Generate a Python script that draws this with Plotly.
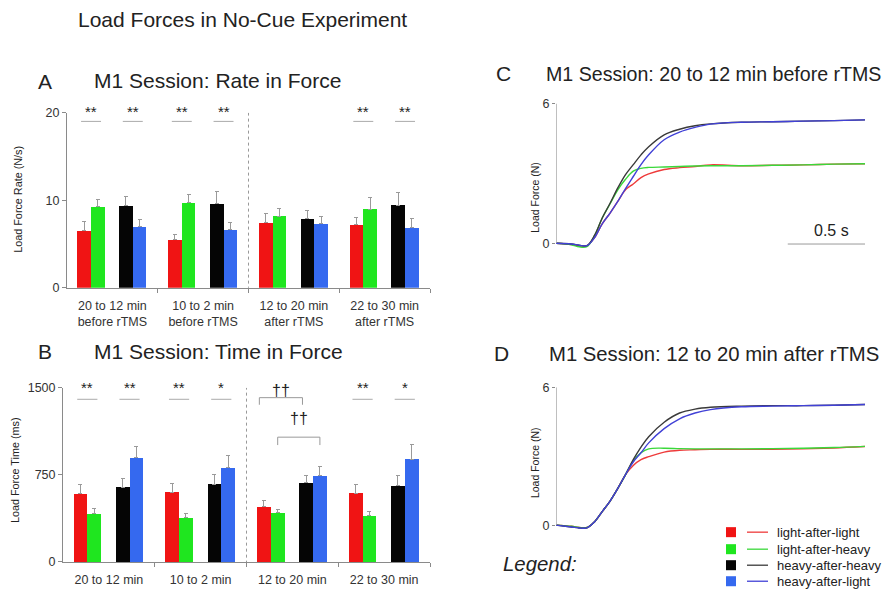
import plotly.graph_objects as go

W, H = 891, 589
FONT = "Liberation Sans, Arial, sans-serif"
TXT = "#222222"

# ---------------- data ----------------
groups_A = ["20 to 12 min<br>before rTMS", "10 to 2 min<br>before rTMS",
            "12 to 20 min<br>after rTMS", "22 to 30 min<br>after rTMS"]
groups_B = ["20 to 12 min", "10 to 2 min", "12 to 20 min", "22 to 30 min"]
series_names = ["light-after-light", "light-after-heavy", "heavy-after-heavy", "heavy-after-light"]

# Panel A: load force rate (N/s)
rate_red = [6.5, 5.5, 7.45, 7.2]
rate_green = [9.25, 9.75, 8.2, 9.0]
rate_black = [9.35, 9.65, 7.95, 9.45]
rate_blue = [7.0, 6.7, 7.3, 6.9]
rate_red_err = [1.05, 0.55, 1.0, 0.85]
rate_green_err = [0.85, 0.95, 0.85, 1.3]
rate_black_err = [1.1, 1.35, 0.9, 1.4]
rate_blue_err = [0.85, 0.8, 0.85, 1.0]

# Panel B: load force time (ms)
time_red = [586, 601, 477, 592]
time_green = [417, 379, 422, 397]
time_black = [644, 670, 681, 655]
time_blue = [897, 813, 744, 885]
time_red_err = [80, 74, 55, 78]
time_green_err = [40, 40, 25, 40]
time_black_err = [77, 86, 60, 89]
time_blue_err = [94, 100, 75, 126]

# significance markers: (group, pair, label) pair 0 = red/green, 1 = black/blue
sig_A = [(0, 0, "**"), (0, 1, "**"), (1, 0, "**"), (1, 1, "**"), (3, 0, "**"), (3, 1, "**")]
sig_B = [(0, 0, "**"), (0, 1, "**"), (1, 0, "**"), (1, 1, "*"), (3, 0, "**"), (3, 1, "*")]

# Panels C/D: averaged load force traces (N) vs time (s)
t_s = [0, 0.1, 0.15, 0.2, 0.25, 0.3, 0.35, 0.4, 0.45, 0.5, 0.55, 0.6, 0.7, 0.8, 0.9,
       1.0, 1.2, 1.4, 1.6, 1.8, 2.0]
C_red = [0, -0.05, -0.1, -0.1, 0.25, 0.85, 1.3, 1.8, 2.3, 2.55, 2.82, 2.98, 3.17, 3.25, 3.3,
         3.37, 3.33, 3.35, 3.37, 3.4, 3.42]
C_green = [0, -0.06, -0.15, -0.14, 0.33, 1.1, 1.7, 2.3, 2.75, 3.1, 3.22, 3.26, 3.28, 3.3, 3.32,
           3.33, 3.33, 3.35, 3.37, 3.4, 3.42]
C_black = [0, -0.03, -0.08, -0.1, 0.35, 1.1, 1.72, 2.38, 2.95, 3.38, 3.8, 4.15, 4.66, 4.9, 5.05,
           5.13, 5.2, 5.22, 5.25, 5.27, 5.3]
C_blue = [0, -0.03, -0.08, -0.1, 0.25, 0.85, 1.3, 1.8, 2.35, 2.87, 3.38, 3.8, 4.45, 4.78, 4.98,
          5.12, 5.2, 5.22, 5.25, 5.27, 5.3]
D_red = [0, -0.05, -0.1, -0.1, 0.15, 0.6, 1.05, 1.6, 2.2, 2.6, 2.85, 2.98, 3.18, 3.26, 3.28,
         3.3, 3.3, 3.3, 3.32, 3.36, 3.42]
D_green = [0, -0.05, -0.1, -0.1, 0.15, 0.6, 1.05, 1.6, 2.2, 2.8, 3.15, 3.32, 3.35, 3.33, 3.32,
           3.32, 3.32, 3.33, 3.35, 3.38, 3.43]
D_black = [0, -0.08, -0.12, -0.12, 0.15, 0.6, 1.05, 1.6, 2.2, 2.85, 3.4, 3.85, 4.48, 4.88, 5.05,
           5.13, 5.18, 5.2, 5.2, 5.22, 5.25]
D_blue = [0, -0.08, -0.12, -0.12, 0.15, 0.6, 1.05, 1.6, 2.2, 2.75, 3.15, 3.58, 4.2, 4.63, 4.88,
          5.03, 5.15, 5.18, 5.2, 5.22, 5.25]

scale_bar_s = 0.5

# ---------------- style ----------------
bar_colors = ["#f01414", "#1fe61f", "#050505", "#3569ef"]
line_colors = ["#ee3b3b", "#3ad83a", "#3a3a3a", "#4141d6"]
bar_offsets = [0.19, 0.34, 0.65, 0.80]
pair_centers = [0.265, 0.725]
bar_w = 0.15
AX = "#8a8a8a"

# vertical correction for the capture (observed: rendered y ~ 7.5 + 0.975 * layout y)
Y_OFF, Y_SCALE = 7.5, 0.975


def px(x):
    return x / W


def py(y):
    y = (y - Y_OFF) / Y_SCALE
    return 1 - y / H


fig = go.Figure()

rate_vals = [rate_red, rate_green, rate_black, rate_blue]
rate_errs = [rate_red_err, rate_green_err, rate_black_err, rate_blue_err]
time_vals = [time_red, time_green, time_black, time_blue]
time_errs = [time_red_err, time_green_err, time_black_err, time_blue_err]

for vals, errs, ax in [(rate_vals, rate_errs, ("x", "y")), (time_vals, time_errs, ("x2", "y2"))]:
    for k in range(4):
        fig.add_trace(go.Bar(
            x=[g + bar_offsets[k] for g in range(4)], y=vals[k], width=bar_w,
            marker=dict(color=bar_colors[k], line=dict(width=0)),
            error_y=dict(type="data", symmetric=False, array=errs[k],
                         arrayminus=[0] * 4, color="#9a9a9a", thickness=1, width=2),
            xaxis=ax[0], yaxis=ax[1], showlegend=False, name=series_names[k]))

traces_C = [C_red, C_green, C_black, C_blue]
traces_D = [D_red, D_green, D_black, D_blue]
for tr, ax in [(traces_C, ("x3", "y3")), (traces_D, ("x4", "y4"))]:
    for k in range(4):
        fig.add_trace(go.Scatter(
            x=t_s, y=tr[k], mode="lines", line=dict(color=line_colors[k], width=1.4, shape="spline"),
            xaxis=ax[0], yaxis=ax[1], showlegend=False, name=series_names[k]))

# ---------------- axes ----------------
tickfont = dict(family=FONT, size=12.5, color="#333")
common_y = dict(showgrid=False, zeroline=False, showline=True, linecolor=AX, linewidth=1,
                ticks="outside", ticklen=4, tickcolor=AX, tickfont=tickfont)
common_x = dict(showgrid=False, zeroline=False, showline=True, linecolor=AX, linewidth=1,
                ticks="", tickfont=dict(family=FONT, size=12.5, color="#333"),
                range=[0, 4], tickvals=[0.5, 1.5, 2.5, 3.5], ticklabelstandoff=6,
                minor=dict(tickvals=[1, 2, 3, 4], ticks="outside", ticklen=4, tickcolor=AX))

layout = dict(
    width=W, height=H, autosize=False, margin=dict(l=0, r=0, t=0, b=0),
    paper_bgcolor="white", plot_bgcolor="white", bargap=0,
    xaxis=dict(domain=[px(67), px(430)], anchor="y", ticktext=groups_A, **common_x),
    yaxis=dict(domain=[py(288), py(113)], anchor="x", range=[0, 20], tickvals=[0, 10, 20], **common_y),
    xaxis2=dict(domain=[px(63), px(430)], anchor="y2", ticktext=groups_B, **common_x),
    yaxis2=dict(domain=[py(561.7), py(387.7)], anchor="x2", range=[0, 1500],
                tickvals=[0, 750, 1500], **common_y),
    xaxis3=dict(domain=[px(556), px(865)], anchor="y3", range=[0, 2], visible=False),
    yaxis3=dict(domain=[py(250.5), py(104)], anchor="x3", range=[-0.3, 6], tickvals=[0, 6],
                showgrid=False, zeroline=False, showline=False, ticks="outside", ticklen=3,
                tickcolor=AX, tickfont=tickfont),
    xaxis4=dict(domain=[px(556), px(865)], anchor="y4", range=[0, 2], visible=False),
    yaxis4=dict(domain=[py(531.9), py(387.3)], anchor="x4", range=[-0.3, 6], tickvals=[0, 6],
                showgrid=False, zeroline=False, showline=False, ticks="outside", ticklen=3,
                tickcolor=AX, tickfont=tickfont),
)
fig.update_layout(**layout)

shapes = []
ann = []


def text(x, y, s, size, xanchor="left", italic=False, angle=0, xref="paper", yref="paper", color=TXT):
    ann.append(dict(x=x, y=y, xref=xref, yref=yref, text=s, showarrow=False, xanchor=xanchor,
                    yanchor="middle", textangle=angle,
                    font=dict(family=FONT, size=size, color=color,
                              style="italic" if italic else "normal")))


# titles
text(px(76), py(20), "Load Forces in No-Cue Experiment", 21)
text(px(36), py(82), "A", 21)
text(px(92), py(81), "M1 Session: Rate in Force", 21)
text(px(36), py(352), "B", 21)
text(px(92), py(352), "M1 Session: Time in Force", 21)
text(px(494), py(74), "C", 21)
text(px(544), py(74), "M1 Session: 20 to 12 min before rTMS", 19.6)
text(px(492), py(354), "D", 21)
text(px(547), py(354), "M1 Session: 12 to 20 min after rTMS", 20.3)

# axis titles
text(px(18), py(200), "Load Force Rate (N/s)", 10.8, xanchor="center", angle=-90)
text(px(15), py(470), "Load Force Time (ms)", 10.8, xanchor="center", angle=-90)
text(px(535), py(198), "Load Force (N)", 10.5, xanchor="center", angle=-90)
text(px(535), py(463), "Load Force (N)", 10.5, xanchor="center", angle=-90)

# dotted separators
for xr, yr, ytop in [("x", "y", 20), ("x2", "y2", 1500)]:
    shapes.append(dict(type="line", xref=xr, yref=yr, x0=2, x1=2, y0=-0.01 * ytop, y1=ytop,
                       line=dict(color="#999", width=1, dash="dot")))

# significance markers (text placed in paper coords above the axis tops)
for sig, xr, yr, ytxt_px, yline in [(sig_A, "x", "y", 112, 19.0), (sig_B, "x2", "y2", 388, 1400)]:
    for g, p, lab in sig:
        c = g + pair_centers[p]
        shapes.append(dict(type="line", xref=xr, yref=yr, x0=c - 0.11, x1=c + 0.11,
                           y0=yline, y1=yline, line=dict(color="#aaa", width=1)))
        text(c, py(ytxt_px), lab, 15, xanchor="center", xref=xr, yref="paper")

# brackets in B, group 3 (index 2)
brackets = [(2 + bar_offsets[0] - 0.05, 2 + bar_offsets[2] - 0.04, 1414, 1353, 1475),
            (2 + bar_offsets[1], 2 + bar_offsets[3], 1074, 1006, 1235)]
for x0, x1, ytop, ybot, ylab in brackets:
    shapes.append(dict(type="path", xref="x2", yref="y2",
                       path=f"M {x0},{ybot} L {x0},{ytop} L {x1},{ytop} L {x1},{ybot}",
                       line=dict(color="#999", width=1)))
    text((x0 + x1) / 2, ylab, "††", 16, xanchor="center", xref="x2", yref="y2")

# C/D y axis lines (0..6) and scale bar
for xr, yr in [("x3", "y3"), ("x4", "y4")]:
    shapes.append(dict(type="line", xref=xr, yref=yr, x0=0, x1=0, y0=0, y1=6,
                       line=dict(color="#aaa", width=1.5)))
shapes.append(dict(type="line", xref="x3", yref="y3", x0=2 - scale_bar_s, x1=2, y0=-0.03, y1=-0.03,
                   line=dict(color="#999", width=1)))
text(2 - scale_bar_s / 2 + 0.03, 0.55, f"{scale_bar_s} s", 16, xanchor="center", xref="x3", yref="y3")

# legend
leg_y = [532, 549, 565, 581]
for k in range(4):
    shapes.append(dict(type="rect", xref="paper", yref="paper", x0=px(726), x1=px(736),
                       y0=py(leg_y[k] + 5), y1=py(leg_y[k] - 5),
                       fillcolor=bar_colors[k], line=dict(width=0)))
    shapes.append(dict(type="line", xref="paper", yref="paper", x0=px(747), x1=px(768),
                       y0=py(leg_y[k]), y1=py(leg_y[k]), line=dict(color=line_colors[k], width=1.3)))
    text(px(775), py(leg_y[k]), series_names[k], 13)
text(px(501), py(564), "Legend:", 20.4, italic=True)

fig.update_layout(shapes=shapes, annotations=ann)
fig.write_html("out.html",
               config={"responsive": False, "displayModeBar": False},
               post_script="document.body.style.margin='0';document.body.style.overflow='hidden';")
